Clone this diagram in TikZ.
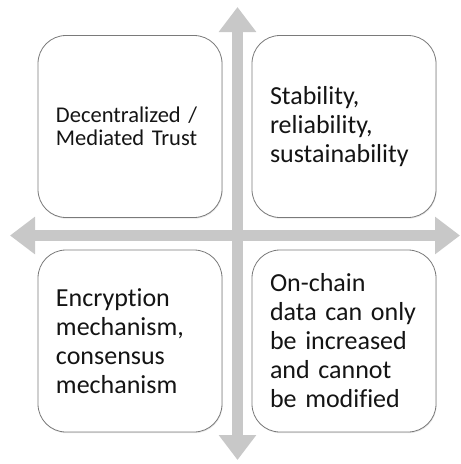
\documentclass[tikz,border=0pt]{standalone}
\usepackage{fontspec}
\setmainfont{Carlito}[Ligatures=NoCommon]
\usetikzlibrary{arrows.meta,shadows}

\definecolor{axisgray}{HTML}{C8C8C8}
\definecolor{framegray}{HTML}{7A7A7A}
\definecolor{inktext}{HTML}{141414}

\tikzset{
  axis/.style={draw=axisgray, line width=11pt,
    {Triangle[length=25pt,width=36pt]}-{Triangle[length=25pt,width=36pt]}},
  card/.style={draw=framegray, line width=0.8pt, fill=white,
    rounded corners=28pt, minimum width=184pt, minimum height=182pt,
    inner xsep=18pt, inner ysep=0pt, text width=148pt, align=left,
    text=inktext, font=\fontsize{26pt}{29pt}\selectfont,
    drop shadow={opacity=0.18, shadow xshift=0.6pt, shadow yshift=-1.2pt}},
  smallcard/.style={card, font=\fontsize{22.5pt}{23.5pt}\selectfont}
}

\begin{document}
\begin{tikzpicture}[x=1pt,y=1pt]
  \useasboundingbox (0,0) rectangle (461,-464);

  % axis end points
  \coordinate (west)  at (10,-235.5);
  \coordinate (east)  at (460,-235.5);
  \coordinate (north) at (237.5,-7);
  \coordinate (south) at (237.5,-460);

  % the two double-headed axes
  \draw[axis] (west) -- (east);
  \draw[axis] (north) -- (south);

  % the four quadrant cards
  \node[smallcard] (tl) at (130,-126.5) {Decentralized /\\Mediated Trust};
  \node[card] (tr) at (344,-126.5) {Stability,\\reliability,\\sustainability};
  \node[card] (bl) at (130,-341) {Encryption\\mechanism,\\consensus\\mechanism};
  \node[card] (br) at (344,-341) {On-chain\\\mbox{data can only}\\\mbox{be increased}\\and cannot\\be modified};
\end{tikzpicture}
\end{document}
